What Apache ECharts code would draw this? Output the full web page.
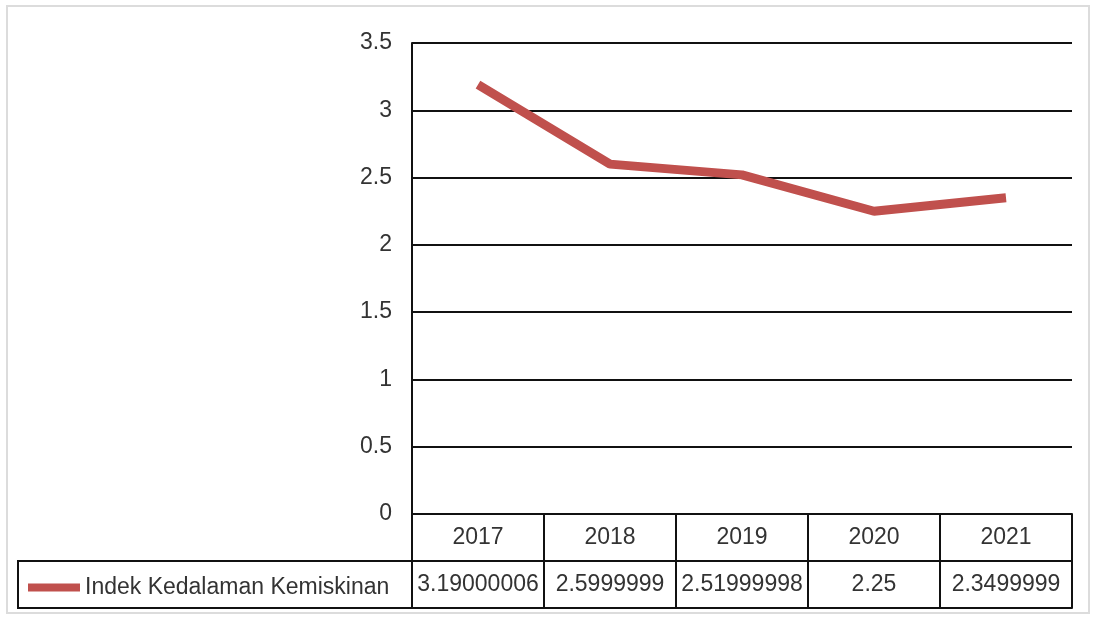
<!DOCTYPE html>
<html>
<head>
<meta charset="utf-8">
<script src="https://cdn.jsdelivr.net/npm/echarts@6/dist/echarts.min.js"></script>
<style>
html,body{margin:0;padding:0;background:#fff;}
#chart{width:1096px;height:619px;}
</style>
</head>
<body>
<div id="chart"></div>
<script>
const categories = ['2017', '2018', '2019', '2020', '2021'];
const seriesName = 'Indek Kedalaman Kemiskinan';
const values = [3.19000006, 2.5999999, 2.51999998, 2.25, 2.3499999];
const tableLabels = ['3.19000006', '2.5999999', '2.51999998', '2.25', '2.3499999'];
const yTicks = { min: 0, max: 3.5, interval: 0.5 };

const FONT = '"Liberation Sans", "DejaVu Sans", sans-serif';
const TXT = '#333';
const FS = 23;

const chart = echarts.init(document.getElementById('chart'));
chart.setOption({
  animation: false,
  backgroundColor: '#fff',
  grid: { left: 412, right: 24, top: 43, bottom: 105, containLabel: false },
  legend: {
    left: 23, top: 571,
    icon: 'rect', itemWidth: 52, itemHeight: 8, itemGap: 5,
    data: [seriesName],
    textStyle: { fontFamily: FONT, fontSize: FS, color: TXT, padding: [0, 0, 0, 0] }
  },
  xAxis: [
    {
      type: 'category', data: categories, boundaryGap: true, position: 'bottom',
      axisLine: { show: true, lineStyle: { color: '#111', width: 2 } },
      axisTick: { show: true, length: 94, inside: false, interval: 0, lineStyle: { color: '#111', width: 2 } },
      axisLabel: { fontFamily: FONT, fontSize: FS, color: TXT, margin: 12, interval: 0 },
      splitLine: { show: false }
    },
    {
      type: 'category', data: tableLabels, boundaryGap: true, position: 'bottom', offset: 47,
      axisLine: { show: true, lineStyle: { color: '#111', width: 2 } },
      axisTick: { show: false },
      axisLabel: { fontFamily: FONT, fontSize: FS, color: TXT, margin: 12, interval: 0, hideOverlap: false },
      splitLine: { show: false }
    },
    {
      type: 'category', data: categories, boundaryGap: true, position: 'bottom', offset: 94,
      axisLine: { show: true, lineStyle: { color: '#111', width: 2 } },
      axisTick: { show: false },
      axisLabel: { show: false },
      splitLine: { show: false }
    }
  ],
  yAxis: {
    type: 'value', min: yTicks.min, max: yTicks.max, interval: yTicks.interval,
    axisLine: { show: true, lineStyle: { color: '#111', width: 2 } },
    axisTick: { show: false },
    axisLabel: { fontFamily: FONT, fontSize: FS, color: TXT, margin: 20, padding: [8, 0, 0, 0] },
    splitLine: { show: true, lineStyle: { color: '#111', width: 2 } }
  },
  graphic: [
    { type: 'rect', shape: { x: 18, y: 561, width: 394, height: 47 },
      style: { fill: 'none', stroke: '#111', lineWidth: 2 }, z: 10 },
    { type: 'rect', shape: { x: 7, y: 6, width: 1082, height: 607 },
      style: { fill: 'none', stroke: '#dcdcdc', lineWidth: 2 }, z: -1 }
  ],
  series: [{
    name: seriesName, type: 'line', data: values, xAxisIndex: 0,
    symbol: 'none', z: 5,
    lineStyle: { color: '#c0504d', width: 9 },
    itemStyle: { color: '#c0504d' }
  }]
});
</script>
</body>
</html>
